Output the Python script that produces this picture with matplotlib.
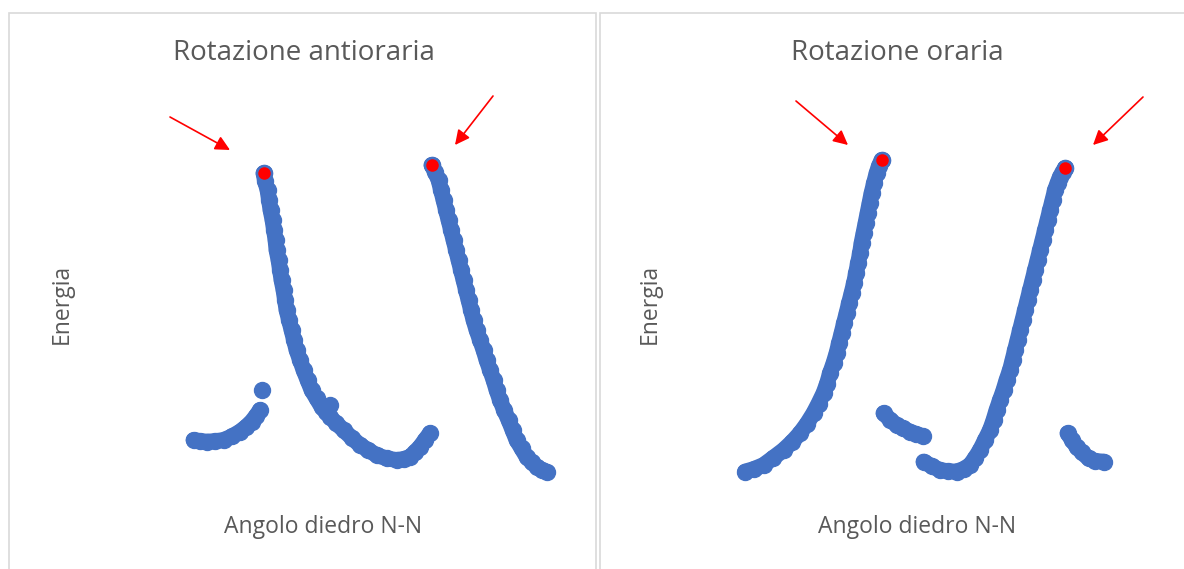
import matplotlib
matplotlib.use("Agg")
import matplotlib.pyplot as plt
from matplotlib.patches import Rectangle

# ---------------- data (angle, energy) in arbitrary units ----------------
# Counter-clockwise rotation
ccw_a_x = [22.7, 24.0, 25.3, 27.0, 28.7, 30.4, 32.0, 33.2, 34.3, 35.2, 36.0]
ccw_a_y = [15.0, 14.75, 14.6, 14.7, 15.0, 15.9, 17.1, 18.25, 19.6, 21.0, 22.5]

ccw_single_x = [36.3]
ccw_single_y = [27.5]

ccw_b_x = [36.7, 37.0, 37.5, 37.8, 38.1, 38.5, 38.8, 39.1, 39.3, 39.7, 40.0,
           40.3, 40.7, 41.0, 41.3, 41.8, 42.3, 42.8, 43.3, 44.0, 44.7, 45.5,
           46.3, 47.3, 48.3, 49.2, 50.0, 51.2, 52.7, 54.3, 56.0, 57.6, 59.3,
           61.3, 63.3, 64.8, 66.0, 67.0, 68.0, 69.0, 70.0]
ccw_b_y = [81.7, 79.75, 77.5, 75.0, 72.5, 70.0, 67.5, 65.0, 62.5, 60.0, 57.5,
           55.0, 52.5, 50.0, 47.5, 45.0, 42.5, 40.0, 37.5, 35.0, 32.5, 30.0,
           27.5, 25.4, 23.3, 22.0, 20.8, 19.25, 17.5, 15.6, 13.75, 12.5, 11.25,
           10.4, 10.0, 10.25, 10.8, 12.0, 13.3, 15.0, 16.7]

ccw_bump_x = [50.0]
ccw_bump_y = [23.75]

ccw_c_x = [70.3, 71.0, 71.7, 72.2, 72.7, 73.2, 73.7, 74.2, 74.7, 75.2, 75.7,
           76.2, 76.7, 77.2, 77.7, 78.2, 78.7, 79.3, 80.0, 80.7, 81.3, 82.0,
           82.7, 83.3, 84.0, 84.8, 85.7, 86.5, 87.3, 88.3, 89.3, 90.3, 91.3,
           92.3, 93.3]
ccw_c_y = [83.75, 82.0, 80.0, 77.5, 75.0, 72.5, 70.0, 67.5, 65.0, 62.5, 60.0,
           57.5, 55.0, 52.5, 50.0, 47.5, 45.0, 42.5, 40.0, 37.5, 35.0, 32.5,
           30.0, 27.5, 25.0, 22.5, 20.0, 17.5, 15.0, 12.9, 10.8, 9.5, 8.3,
           7.6, 7.1]

ccw_peak_x = [36.7, 70.3]
ccw_peak_y = [81.7, 83.75]

# Clockwise rotation
cw_d_x = [15.0, 16.8, 18.7, 20.6, 22.7, 24.4, 26.0, 27.4, 28.7, 29.7, 30.7,
          31.4, 32.0, 32.7, 33.3, 33.8, 34.3, 34.8, 35.3, 35.8, 36.3, 36.8,
          37.2, 37.6, 38.0, 38.3, 38.7, 39.1, 39.5, 39.9, 40.3, 40.8, 41.3,
          41.8, 42.3]
cw_d_y = [7.1, 7.75, 8.75, 10.5, 12.5, 14.5, 16.7, 19.1, 21.7, 24.1, 26.7,
          29.1, 31.7, 34.2, 36.7, 39.2, 41.7, 44.2, 46.7, 49.2, 51.7, 54.2,
          56.7, 59.2, 61.7, 64.2, 66.7, 69.2, 71.7, 74.2, 76.7, 79.2, 81.7,
          83.5, 85.0]

cw_e_x = [42.7, 44.0, 45.3, 46.6, 48.0, 49.2, 50.5]
cw_e_y = [21.7, 20.1, 18.75, 17.9, 17.1, 16.5, 16.0]

cw_f_x = [50.7, 52.3, 54.0, 55.6, 57.3, 58.7, 60.0, 61.0, 62.0, 63.0, 64.0,
          64.7, 65.3, 66.0, 66.7, 67.3, 68.0, 68.5, 69.0, 69.5, 70.0, 70.5,
          71.0, 71.5, 72.0, 72.5, 73.0, 73.5, 74.0, 74.5, 75.0, 75.5, 76.0,
          76.5, 77.0, 77.5, 78.0, 78.5, 79.0]
cw_f_y = [9.6, 8.5, 7.5, 7.2, 7.1, 7.75, 8.75, 10.5, 12.5, 15.0, 17.5,
          20.0, 22.5, 25.0, 27.5, 30.0, 32.5, 35.0, 37.5, 40.0, 42.5, 45.0,
          47.5, 50.0, 52.5, 55.0, 57.5, 60.0, 62.5, 65.0, 67.5, 70.0, 72.5,
          75.0, 77.5, 79.25, 80.8, 82.0, 82.9]

cw_g_x = [79.5, 80.4, 81.3, 82.4, 83.7, 85.0, 86.7]
cw_g_y = [16.7, 15.0, 13.3, 11.9, 10.4, 9.75, 9.6]

cw_peak_x = [42.3, 79.0]
cw_peak_y = [85.0, 82.9]

# Arrows pointing at the peaks: (tail_x, tail_y, head_x, head_y)
ccw_arrows = [(18.0, 95.75, 30.0, 87.5), (82.6, 101.0, 75.0, 88.75)]
cw_arrows = [(25.2, 99.75, 35.6, 88.75), (94.6, 100.75, 84.6, 88.75)]

titles = ["Rotazione antioraria", "Rotazione oraria"]
x_label = "Angolo diedro N-N"
y_label = "Energia"

# ---------------- styling ----------------
BLUE = "#4472C4"
RED = "#FF0000"
TEXT = "#595959"
BORDER = "#D9D9D9"
FONT = "Open Sans"

W, H = 1184, 569
fig = plt.figure(figsize=(W / 100, H / 100), dpi=100)
fig.patch.set_facecolor("white")


def fx(px):
    return px / W


def fy(py):
    return 1 - py / H


# chart frames
fig.patches.append(Rectangle((fx(9), fy(580)), fx(596) - fx(9), fy(13) - fy(580),
                             transform=fig.transFigure, fill=False,
                             edgecolor=BORDER, lw=1.2))
fig.patches.append(Rectangle((fx(600), fy(580)), fx(1200) - fx(600), fy(13) - fy(580),
                             transform=fig.transFigure, fill=False,
                             edgecolor=BORDER, lw=1.2))

panels = [
    dict(left=80, series=[(ccw_a_x, ccw_a_y), (ccw_b_x, ccw_b_y), (ccw_c_x, ccw_c_y)],
         singles=[(ccw_single_x, ccw_single_y), (ccw_bump_x, ccw_bump_y)],
         peaks=(ccw_peak_x, ccw_peak_y), arrows=ccw_arrows),
    dict(left=670, series=[(cw_d_x, cw_d_y), (cw_e_x, cw_e_y), (cw_f_x, cw_f_y), (cw_g_x, cw_g_y)],
         singles=[],
         peaks=(cw_peak_x, cw_peak_y), arrows=cw_arrows),
]

MS = 11.5
for i, p in enumerate(panels):
    ax = fig.add_axes([fx(p["left"]), fy(500), 500 / W, 440 / H])
    ax.set_xlim(0, 100)
    ax.set_ylim(0, 110)
    ax.axis("off")
    for xs, ys in p["series"]:
        ax.plot(xs, ys, color=BLUE, lw=11.4, solid_capstyle="round",
                solid_joinstyle="round", zorder=2)
        ax.plot(xs, ys, ls="none", marker="o", ms=MS, color=BLUE,
                markeredgecolor=BLUE, zorder=3)
    for xs, ys in p["singles"]:
        ax.plot(xs, ys, ls="none", marker="o", ms=MS, color=BLUE,
                markeredgecolor=BLUE, zorder=3)
    px_, py_ = p["peaks"]
    ax.plot(px_, py_, ls="none", marker="o", ms=MS, color=BLUE, zorder=4)
    ax.plot(px_, py_, ls="none", marker="o", ms=8.0, color=RED, zorder=5)
    for x0, y0, x1, y1 in p["arrows"]:
        ax.annotate("", xy=(x1, y1), xytext=(x0, y0),
                    arrowprops=dict(arrowstyle="-|>", color=RED, lw=1.2,
                                    mutation_scale=22, shrinkA=0, shrinkB=0),
                    zorder=6, annotation_clip=False)

# titles and axis labels
fig.text(fx(304), fy(53), titles[0], ha="center", va="center",
         fontsize=20, color=TEXT, family=FONT)
fig.text(fx(897), fy(53), titles[1], ha="center", va="center",
         fontsize=20, color=TEXT, family=FONT)
fig.text(fx(323), fy(527), x_label, ha="center", va="center",
         fontsize=16.5, color=TEXT, family=FONT)
fig.text(fx(917), fy(527), x_label, ha="center", va="center",
         fontsize=16.5, color=TEXT, family=FONT)
fig.text(fx(62), fy(304), y_label, ha="center", va="center", rotation=90,
         fontsize=16.5, color=TEXT, family=FONT)
fig.text(fx(650), fy(304), y_label, ha="center", va="center", rotation=90,
         fontsize=16.5, color=TEXT, family=FONT)

fig.savefig("out.png", dpi=100, facecolor="white")
